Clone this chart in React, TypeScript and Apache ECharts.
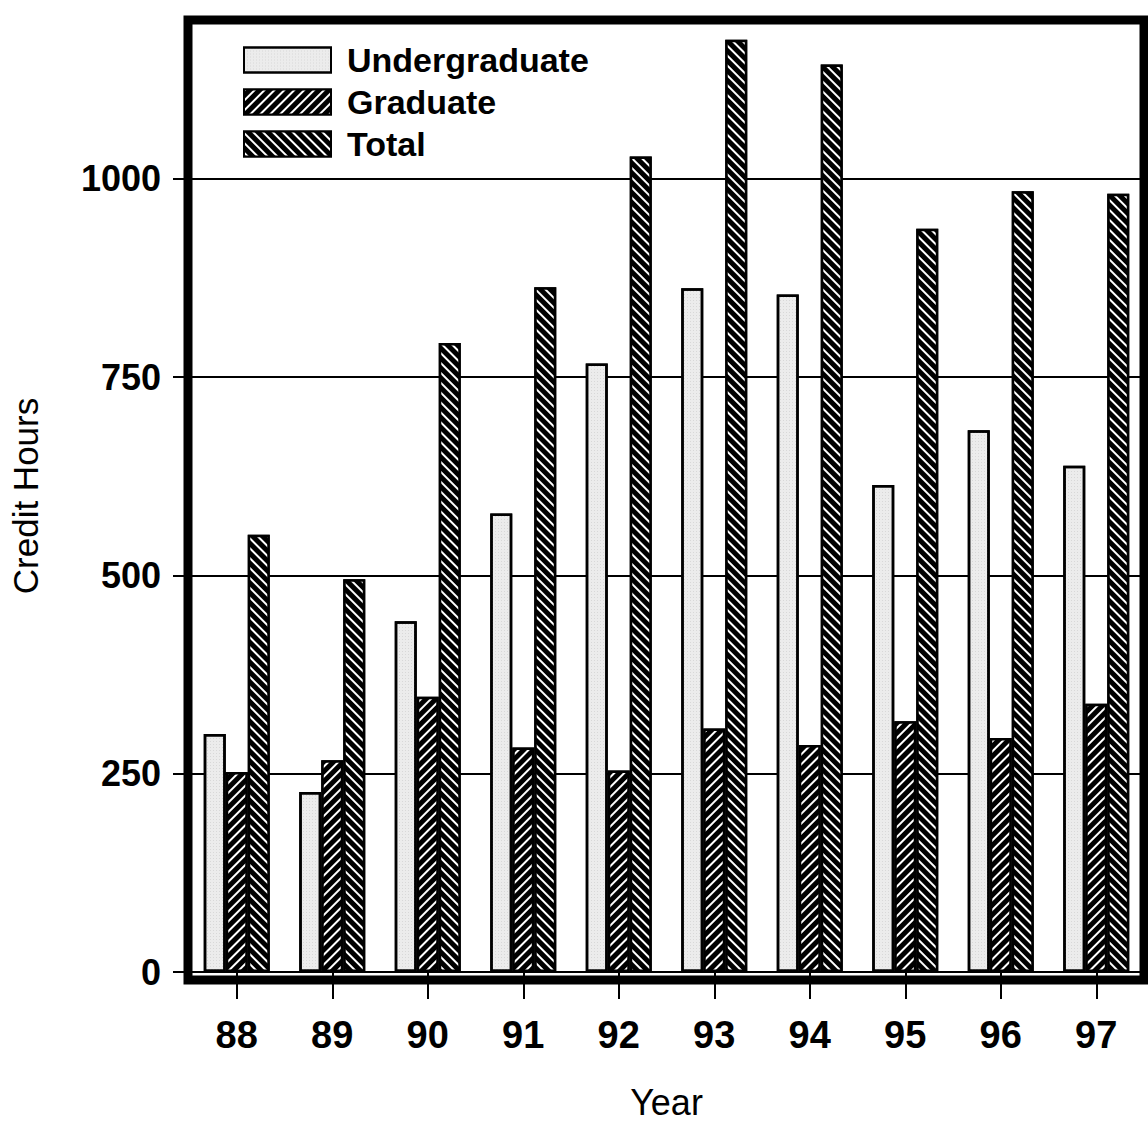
import React, { useEffect, useRef } from "react";
import * as echarts from "echarts";

const years = ["88", "89", "90", "91", "92", "93", "94", "95", "96", "97"];
const undergraduate = [300, 227, 442, 578, 767, 862, 854, 614, 683, 638];
const graduate = [252, 267, 347, 283, 254, 307, 286, 316, 295, 338];
const total = [551, 495, 793, 863, 1028, 1175, 1144, 937, 984, 981];
const yTicks = [0, 250, 500, 750, 1000];

const FONT = "'Liberation Sans', Arial, Helvetica, sans-serif";

export default function App() {
  const ref = useRef<HTMLDivElement>(null);
  useEffect(() => {
    if (!ref.current) return;
    const chart = echarts.init(ref.current, null, { renderer: "svg" });
    const stripe = (rot: number) => ({
      symbol: "rect",
      symbolSize: 1,
      dashArrayX: [1, 0],
      dashArrayY: [1.6, 5],
      rotation: rot,
      color: "#ffffff",
    });
    const dots = {
      symbol: "rect",
      symbolSize: 0.6,
      dashArrayX: [1, 2],
      dashArrayY: [1, 2],
      color: "#a8a8a8",
    };
    const gL = 188, gT = 20, gR = 4, gB = 145;
    chart.setOption({
      animation: false,
      backgroundColor: "#ffffff",
      grid: { left: gL, right: gR, top: gT, bottom: gB, containLabel: false },
      legend: {
        left: 238,
        top: 38,
        orient: "vertical",
        icon: "rect",
        itemWidth: 87,
        itemHeight: 25,
        itemGap: 8,
        selectedMode: false,
        textStyle: {
          fontFamily: FONT,
          fontSize: 34,
          fontWeight: "bold",
          color: "#000",
          lineHeight: 25,
          padding: [0, 0, 0, 11],
        },
        data: ["Undergraduate", "Graduate", "Total"],
      },
      xAxis: {
        type: "category",
        data: years,
        name: "Year",
        nameLocation: "middle",
        nameGap: 112,
        nameTextStyle: { fontFamily: FONT, fontSize: 36, color: "#000" },
        axisLine: { show: false },
        axisTick: { show: true, alignWithLabel: true, length: 27, lineStyle: { color: "#000", width: 2 } },
        axisLabel: { margin: 44, fontFamily: FONT, fontSize: 38, fontWeight: "bold", color: "#000" },
        splitLine: { show: false },
      },
      yAxis: {
        type: "value",
        min: 0,
        max: 1200,
        interval: 250,
        name: "Credit Hours",
        nameLocation: "middle",
        nameGap: 146,
        nameTextStyle: { fontFamily: FONT, fontSize: 35, color: "#000" },
        axisLine: { show: false },
        axisTick: { show: true, length: 16, lineStyle: { color: "#000", width: 2 }, customValues: yTicks },
        axisLabel: {
          margin: 28,
          fontFamily: FONT,
          fontSize: 36,
          fontWeight: "bold",
          color: "#000",
          customValues: yTicks,
          formatter: (v: number) => (yTicks.indexOf(v) >= 0 ? String(v) : ""),
        },
        splitLine: { show: true, lineStyle: { color: "#000", width: 2 } },
      },
      series: [
        {
          name: "Undergraduate",
          type: "bar",
          data: undergraduate,
          barWidth: 22,
          barGap: "0%",
          itemStyle: { color: "#ececec", borderColor: "#000", borderWidth: 2.5, decal: dots },
        },
        {
          name: "Graduate",
          type: "bar",
          data: graduate,
          barWidth: 22,
          barGap: "0%",
          itemStyle: { color: "#000", borderColor: "#000", borderWidth: 2.5, decal: stripe(-Math.PI / 4) },
        },
        {
          name: "Total",
          type: "bar",
          data: total,
          barWidth: 22,
          barGap: "0%",
          itemStyle: { color: "#000", borderColor: "#000", borderWidth: 2.5, decal: stripe(Math.PI / 4) },
        },
      ],
      graphic: [
        {
          type: "rect",
          z: 100,
          silent: true,
          shape: { x: gL, y: gT, width: 1148 - gL - gR, height: 1125 - gT - gB },
          style: { fill: "none", stroke: "#000", lineWidth: 9 },
        },
      ],
    });
    return () => chart.dispose();
  }, []);
  return (
    <div
      ref={ref}
      style={{ position: "fixed", left: 0, top: 0, width: 1148, height: 1125, background: "#fff" }}
    />
  );
}
